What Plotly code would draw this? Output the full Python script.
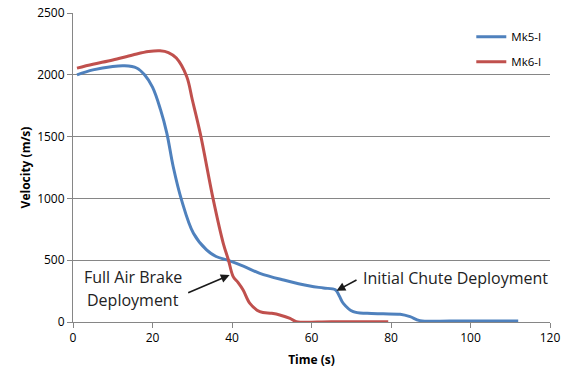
import plotly.graph_objects as go

mk5_t = [1, 5, 10, 13, 16, 18, 20, 22, 23.6, 25.2, 27.3, 30.3, 33.6, 36, 38.7, 43, 47, 53, 59.6, 63, 66, 67, 68, 70.5, 74, 78, 82.3, 84.8, 87.3, 95, 105, 112]
mk5_v = [2000, 2040, 2068, 2073, 2055, 2000, 1900, 1720, 1528, 1258, 988, 718, 583, 530, 502, 450, 394, 340, 291, 275, 260, 210, 151, 83, 70, 66, 62, 43, 11, 8, 8, 8]

mk6_t = [1, 5, 10, 15, 19, 21.9, 24, 26, 28.6, 30, 32, 35.3, 37.8, 39.1, 40.3, 41.5, 42.8, 44.5, 47, 50, 52, 54.6, 56.2, 65, 79.3]
mk6_v = [2054, 2085, 2120, 2160, 2188, 2194, 2180, 2135, 1986, 1800, 1528, 988, 637, 502, 367, 320, 259, 151, 83, 70, 57, 30, 3, 3, 3]

FONT = "Open Sans"

fig = go.Figure()
fig.add_trace(go.Scatter(x=mk5_t, y=mk5_v, mode="lines", name="Mk5-I", legendgroup="a",
                         line=dict(color="#4F81BD", width=3, shape="spline", smoothing=1)))
fig.add_trace(go.Scatter(x=mk6_t, y=mk6_v, mode="lines", name="Mk6-I", legendgroup="b",
                         line=dict(color="#C0504D", width=3, shape="spline", smoothing=1)))

fig.add_annotation(x=39.4, y=380, ax=28.6, ay=232, xref="x", yref="y", axref="x", ayref="y",
                   text="", showarrow=True, arrowhead=2, arrowsize=1.1, arrowwidth=1.6, arrowcolor="#1a1a1a")
fig.add_annotation(x=66.3, y=253, ax=71.7, ay=346, xref="x", yref="y", axref="x", ayref="y",
                   text="", showarrow=True, arrowhead=2, arrowsize=1.1, arrowwidth=1.6, arrowcolor="#1a1a1a")
fig.add_annotation(x=15, y=364, xref="x", yref="y", text="Full Air Brake", showarrow=False,
                   font=dict(family=FONT, size=16, color="#222"))
fig.add_annotation(x=15, y=178, xref="x", yref="y", text="Deployment", showarrow=False,
                   font=dict(family=FONT, size=16, color="#222"))
fig.add_annotation(x=72.5, y=355, xref="x", yref="y", xanchor="left", text="Initial Chute Deployment",
                   showarrow=False, font=dict(family=FONT, size=16, color="#222"))

fig.update_layout(
    width=575, height=383,
    margin=dict(l=73, r=25, t=13, b=61, autoexpand=False),
    paper_bgcolor="white", plot_bgcolor="white",
    font=dict(family=FONT, size=12, color="#000"),
    legend=dict(x=0.835, y=0.97, xanchor="left", yanchor="top", bgcolor="rgba(0,0,0,0)",
                tracegroupgap=6, font=dict(size=11.5)),
    xaxis=dict(range=[0, 120], dtick=20, showgrid=False, showline=True, linecolor="#868686",
               ticks="outside", tickcolor="#868686", ticklen=5, zeroline=False, automargin=False,
               title=dict(text="<b>Time (s)</b>", font=dict(size=12), standoff=10)),
    yaxis=dict(range=[0, 2500], dtick=500, showgrid=True, gridcolor="#868686", gridwidth=1,
               showline=True, linecolor="#868686", ticks="outside", tickcolor="#868686", ticklen=5,
               zeroline=False, automargin=False,
               title=dict(text="<b>Velocity (m/s)</b>", font=dict(size=12), standoff=3)),
)

fig.write_html("out.html", config={"displayModeBar": False},
               post_script="document.body.style.margin='0';document.body.style.overflow='hidden';")
